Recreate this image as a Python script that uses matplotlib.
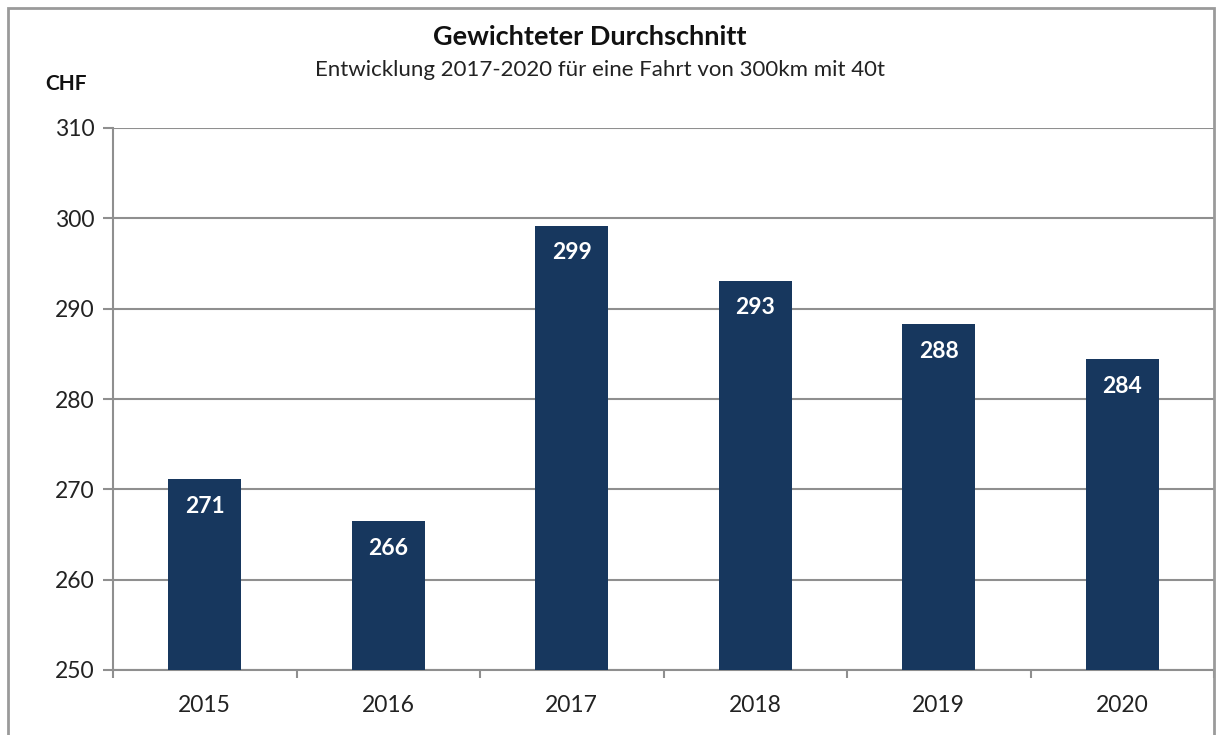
import matplotlib
matplotlib.use("Agg")
from matplotlib import pyplot as plt
from matplotlib.patches import Rectangle

years = ["2015", "2016", "2017", "2018", "2019", "2020"]
values = [271.1, 266.5, 299.2, 293.1, 288.3, 284.4]
labels = ["271", "266", "299", "293", "288", "284"]

plt.rcParams['font.family'] = ['Lato', 'DejaVu Sans']

fig = plt.figure(figsize=(12.17, 7.35), dpi=100)
ax = fig.add_axes([113 / 1217, 65 / 735, 1101 / 1217, 542 / 735])

bar_color = "#17375E"
grid_color = "#8f8f8f"
x = list(range(len(years)))
bars = ax.bar(x, [v - 250 for v in values], bottom=250, width=0.4,
              color=bar_color, zorder=3)

for b, lab in zip(bars, labels):
    ax.text(b.get_x() + b.get_width() / 2, b.get_y() + b.get_height() - 3.0, lab,
            ha="center", va="center", color="white", fontsize=16.5,
            fontweight="bold", zorder=4)

ax.set_xlim(-0.5, 5.5)
ax.set_ylim(250, 310)
ax.set_yticks(range(250, 311, 10))
ax.set_xticks(x)
ax.set_xticklabels(years)
ax.tick_params(axis="x", length=0, pad=18, labelsize=16.5, labelcolor="#222222")
ax.set_xticks([i + 0.5 for i in range(-1, 6)], minor=True)
ax.tick_params(axis="x", which="minor", length=6, width=1.5, color=grid_color, direction="out")
ax.tick_params(axis="y", length=7, width=1.5, color=grid_color, labelsize=16.5,
               labelcolor="#222222", pad=6)
ax.yaxis.grid(True, color=grid_color, linewidth=1.5, zorder=0)
ax.set_axisbelow(True)
for side in ["top", "right"]:
    ax.spines[side].set_visible(False)
for side in ["left", "bottom"]:
    ax.spines[side].set_color(grid_color)
    ax.spines[side].set_linewidth(1.5)

fig.text(0.485, 1 - 37 / 735, "Gewichteter Durchschnitt", ha="center", va="center",
         fontsize=19.5, fontweight="bold", color="#111111")
fig.text(0.493, 1 - 70 / 735, "Entwicklung 2017-2020 für eine Fahrt von 300km mit 40t",
         ha="center", va="center", fontsize=16, color="#222222")
fig.text(45 / 1217, 1 - 84 / 735, "CHF", ha="left", va="center",
         fontsize=15, fontweight="bold", color="#111111")

fig.add_artist(Rectangle((8 / 1217, -0.05), 1206 / 1217, 1.05 - 8 / 735,
                         transform=fig.transFigure, fill=False,
                         edgecolor="#9a9a9a", linewidth=2))

fig.savefig("out.png", dpi=100)
